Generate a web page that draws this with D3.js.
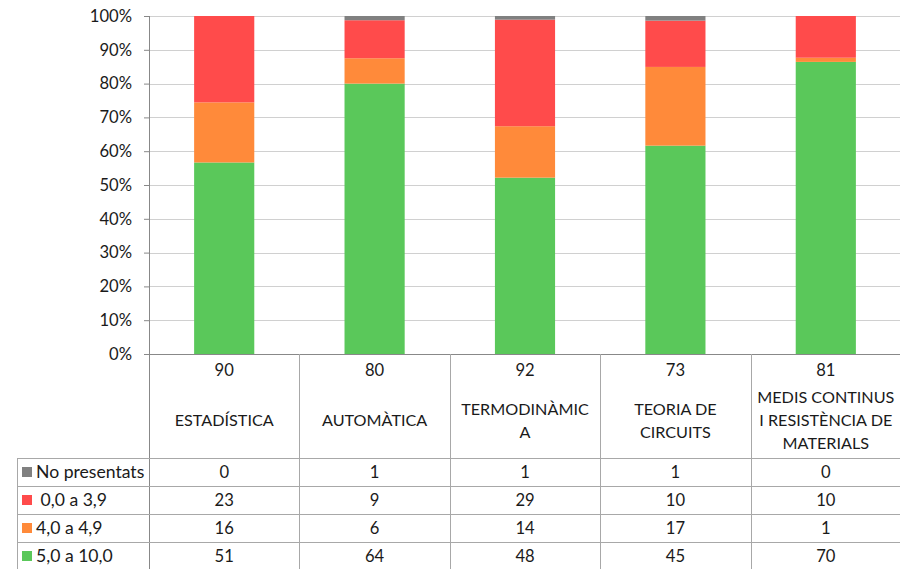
<!DOCTYPE html>
<html><head><meta charset="utf-8">
<script src="https://cdn.jsdelivr.net/npm/d3@7"></script>
<style>body{margin:0;background:#fff}svg{display:block}text{font-family:Lato,"Open Sans",sans-serif;fill:#1a1a1a}</style>
</head><body><svg id="c" width="900" height="569"></svg>
<script>
const categories = ["ESTADÍSTICA","AUTOMÀTICA","TERMODINÀMICA","TEORIA DE CIRCUITS","MEDIS CONTINUS I RESISTÈNCIA DE MATERIALS"];
const categoryLines = [["ESTADÍSTICA"],["AUTOMÀTICA"],["TERMODINÀMIC","A"],["TEORIA DE","CIRCUITS"],["MEDIS CONTINUS","I RESISTÈNCIA DE","MATERIALS"]];
const totals = [90,80,92,73,81];
const seriesNames = ["No presentats"," 0,0 a 3,9","4,0 a 4,9","5,0 a 10,0"];
const noPresentats = [0,1,1,1,0];
const r00_39 = [23,9,29,10,10];
const r40_49 = [16,6,14,17,1];
const r50_100 = [51,64,48,45,70];
const yTicks = [0,0.1,0.2,0.3,0.4,0.5,0.6,0.7,0.8,0.9,1];
const colors = ["#808080","#ff4b4b","#ff8a3a","#5ac85a"];

const seriesValues = [noPresentats, r00_39, r40_49, r50_100];
const svg = d3.select("#c");
const pL = 149, pR = 901, pT = 16, pB = 354;
const fs = 16.6;
const x = d3.scaleBand().domain(categories).range([pL, pR]).padding(0);
const y = d3.scaleLinear().domain([0,1]).range([pB, pT]);

// gridlines
svg.append("g").selectAll("line").data(yTicks.slice(1)).join("line")
  .attr("x1", pL).attr("x2", 900).attr("y1", d=>Math.round(y(d))+0.5).attr("y2", d=>Math.round(y(d))+0.5)
  .attr("stroke", "#d0d0d0").attr("stroke-width", 1);

// stacked bars (bottom: green, then orange, red, gray)
const rows = categories.map((c,i)=>{
  const o = {cat:c};
  seriesNames.forEach((s,k)=>{ o[s] = seriesValues[k][i] / totals[i]; });
  return o;
});
const stackOrder = [seriesNames[3], seriesNames[2], seriesNames[1], seriesNames[0]];
const stack = d3.stack().keys(stackOrder)(rows);
const bw = x.bandwidth()*0.4;
svg.append("g").selectAll("g").data(stack).join("g")
  .attr("fill", d=>colors[seriesNames.indexOf(d.key)])
  .selectAll("rect").data(d=>d).join("rect")
  .attr("x", d=>x(d.data.cat) + (x.bandwidth()-bw)/2)
  .attr("width", bw)
  .attr("y", d=>y(d[1]))
  .attr("height", d=>Math.max(0, y(d[0]) - y(d[1])));

// y axis
const yAxis = d3.axisLeft(y).tickValues(yTicks).tickFormat(d=>Math.round(d*100)+"%").tickSize(5).tickPadding(12);
const ga = svg.append("g").attr("transform", `translate(${pL},0)`).call(yAxis);
ga.select(".domain").remove();
ga.selectAll(".tick line").attr("stroke","#888");
ga.selectAll(".tick text").attr("font-size", fs).attr("fill","#1a1a1a").attr("font-family","Lato");
svg.append("line").attr("x1",pL+0.5).attr("x2",pL+0.5).attr("y1",pT).attr("y2",569).attr("stroke","#888");

// table
const tableLine = "#a8a8a8";
const rowTop = 458, rowH = 28;
svg.append("line").attr("x1",pL).attr("x2",900).attr("y1",pB+0.5).attr("y2",pB+0.5).attr("stroke","#888");
for (let r=0;r<4;r++){
  svg.append("line").attr("x1",17).attr("x2",900).attr("y1",rowTop+r*rowH+0.5).attr("y2",rowTop+r*rowH+0.5).attr("stroke",tableLine);
}
svg.append("line").attr("x1",17.5).attr("x2",17.5).attr("y1",rowTop).attr("y2",569).attr("stroke",tableLine);
svg.append("g").selectAll("line").data(categories.slice(1)).join("line")
  .attr("x1", d=>Math.round(x(d))+0.5).attr("x2", d=>Math.round(x(d))+0.5)
  .attr("y1", pB).attr("y2", 569).attr("stroke", tableLine);

// header: totals and category names
const hdr = svg.append("g");
categories.forEach((c,i)=>{
  const cx = x(c) + x.bandwidth()/2;
  hdr.append("text").attr("x",cx).attr("y",376).attr("text-anchor","middle").attr("font-size",fs).text(totals[i]);
  const lines = categoryLines[i];
  const lh = 23, mid = 420;
  lines.forEach((l,j)=>{
    hdr.append("text").attr("x",cx).attr("y", mid + (j-(lines.length-1)/2)*lh + 6)
      .attr("text-anchor","middle").attr("font-size",16.2).text(l);
  });
});

// data rows
seriesNames.forEach((s,k)=>{
  const cy = rowTop + k*rowH + rowH/2;
  svg.append("rect").attr("x",22).attr("y",cy-5).attr("width",10).attr("height",10).attr("fill",colors[k]);
  svg.append("text").attr("x",36).attr("y",cy+6).attr("font-size",17.6).style("white-space","pre").text(s);
  categories.forEach((c,i)=>{
    svg.append("text").attr("x", x(c)+x.bandwidth()/2).attr("y", cy+6).attr("text-anchor","middle").attr("font-size",fs).text(seriesValues[k][i]);
  });
});
</script></body></html>
